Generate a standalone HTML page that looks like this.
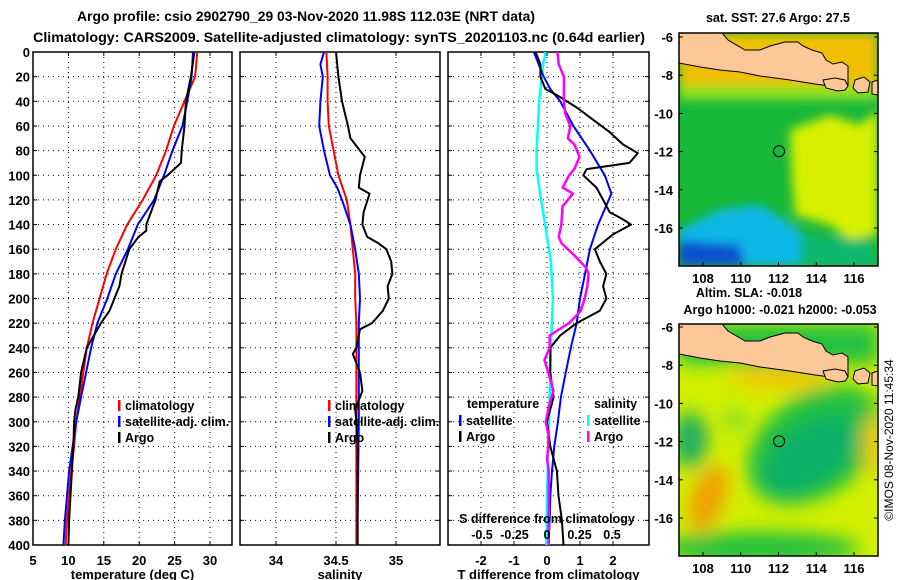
<!DOCTYPE html>
<html><head><meta charset="utf-8">
<style>
html,body{margin:0;padding:0;background:#fff;}
svg{display:block;font-family:"Liberation Sans",sans-serif;font-weight:bold;}
</style></head>
<body>
<svg id="chart" width="900" height="580" viewBox="0 0 900 580">
<defs>
<filter id="blur" x="-20%" y="-20%" width="140%" height="140%"><feGaussianBlur stdDeviation="9"/></filter>
<filter id="blur2" x="-20%" y="-20%" width="140%" height="140%"><feGaussianBlur stdDeviation="5"/></filter>
<clipPath id="clipTop"><rect x="679" y="33" width="199" height="233"/></clipPath>
<clipPath id="clipBot"><rect x="679" y="324" width="199" height="232"/></clipPath>
</defs>
<text x="77" y="21" font-size="14" textLength="458" lengthAdjust="spacingAndGlyphs">Argo profile: csio 2902790_29 03-Nov-2020 11.98S 112.03E (NRT data)</text>
<text x="33" y="42" font-size="14" textLength="612" lengthAdjust="spacingAndGlyphs">Climatology: CARS2009. Satellite-adjusted climatology: synTS_20201103.nc (0.64d earlier)</text>
<g id="panels"></g>
<g id="maps"></g>
<text transform="translate(893,440) rotate(-90)" font-size="12" font-weight="normal" text-anchor="middle">©IMOS 08-Nov-2020 11:45:34</text>
</svg>
<script>
// ---------- data ----------
const depthTicks = [0,20,40,60,80,100,120,140,160,180,200,220,240,260,280,300,320,340,360,380,400];
const tempTicks = [5,10,15,20,25,30];
const salTicks = [34,34.5,35];
const tdiffTicks = [-2,-1,0,1,2];
const sdiffTicks = [-0.5,-0.25,0,0.25,0.5];
const sdiffTickLabels = ["-0.5","-0.25","0","0.25","0.5"];

const stdDepth = [0,20,40,60,80,100,120,140,160,180,200,220,240,260,280,300,320,340,360,380,400];
const tempClim = [28.2,27.9,26.4,24.9,23.8,22.4,20.5,18.3,16.7,15.4,14.4,13.4,12.6,12.1,11.6,11.1,10.8,10.4,10.1,9.8,9.6];
const tempSat  = [27.6,27.4,26.8,26.1,24.7,23.5,22.1,19.8,18.4,16.7,15.5,14.1,13.2,12.5,11.8,11.1,10.6,10.1,9.8,9.5,9.3];
const argoTDepth = [0,20,40,60,80,90,100,105,120,140,145,150,160,180,190,200,210,220,240,260,280,290,300,320,340,360,380,400];
const tempArgo   = [27.8,27.3,26.6,26.4,26.0,25.9,24.0,22.9,22.3,21.0,21.0,19.9,18.6,17.5,17.2,16.5,15.8,14.6,12.6,11.8,11.4,11.0,10.8,10.7,10.5,10.3,10.1,10.0];

const salClim = [34.42,34.43,34.43,34.44,34.48,34.52,34.59,34.62,34.64,34.66,34.66,34.67,34.67,34.67,34.67,34.67,34.67,34.67,34.67,34.67,34.67];
const salSatDepth = [0,10,20,40,60,80,100,110,120,140,160,180,200,220,260,300,340,380,400];
const salSat = [34.40,34.37,34.39,34.37,34.36,34.40,34.45,34.51,34.55,34.62,34.66,34.69,34.70,34.69,34.69,34.69,34.685,34.68,34.68];
const argoSDepth = [0,20,40,60,70,75,85,100,110,115,130,140,150,155,160,170,180,190,200,210,220,225,240,245,260,275,290,300,320,360,400];
const salArgo = [34.50,34.52,34.55,34.60,34.62,34.66,34.74,34.70,34.69,34.78,34.73,34.72,34.76,34.85,34.92,34.96,34.97,34.93,34.94,34.89,34.80,34.70,34.67,34.64,34.70,34.72,34.66,34.67,34.68,34.68,34.68];

const tdiffSatDepth = [0,20,30,40,60,80,100,115,140,160,180,200,220,240,260,280,300,320,340,360,380,400];
const tdiffSat = [-0.4,-0.1,0.1,0.4,0.8,1.3,1.75,1.95,1.55,1.3,1.15,1.0,0.9,0.72,0.57,0.42,0.33,0.22,0.15,0.1,0.08,0.05];
const tdiffArgoDepth = [0,10,20,30,35,45,55,65,75,82,90,95,100,110,120,130,135,140,148,160,170,180,190,200,210,220,230,240,260,280,300,320,330,340,360,380,400];
const tdiffArgo = [-0.35,-0.2,-0.2,-0.05,0.3,0.9,1.4,1.9,2.3,2.75,2.5,1.2,1.1,1.5,1.7,1.9,2.25,2.55,2.0,1.45,1.6,1.8,1.7,1.8,1.6,0.9,0.4,0.1,0.1,0.2,0.0,0.1,0.2,0.3,0.35,0.45,0.5];
const sdiffSatDepth = [0,10,20,40,60,80,95,110,130,150,170,200,240,280,320,360,400];
const sdiffSat = [-0.01,-0.03,-0.04,-0.06,-0.07,-0.08,-0.08,-0.06,-0.03,0,0.03,0.045,0.03,0.02,0.01,0,-0.005];
const sdiffArgoDepth = [0,10,20,40,50,60,70,75,85,95,100,110,115,125,140,150,155,165,175,180,190,200,210,220,230,240,250,260,275,285,300,310,320,330,340,400];
const sdiffArgo = [0.08,0.09,0.13,0.13,0.14,0.18,0.16,0.21,0.25,0.21,0.17,0.12,0.2,0.12,0.11,0.09,0.11,0.21,0.3,0.32,0.31,0.29,0.26,0.17,0.02,0.02,-0.02,0.01,0.05,0.02,-0.01,0.01,0.01,0.0,0.013,0.013];

// ---------- helpers ----------
const NS = "http://www.w3.org/2000/svg";
function mk(tag, attrs, parent){const e=document.createElementNS(NS,tag);for(const k in attrs)e.setAttribute(k,attrs[k]);parent.appendChild(e);return e;}
const TOP=52, BOT=545;
const yD = d => TOP + d*(BOT-TOP)/400;
const xT = v => 33 + (v-5)*177/25;
const xS = v => 276 + (v-34)*120;
const xTd = v => 547 + v*33;
const xSd = v => 547 + v*130;
const panels = document.getElementById('panels');

function frame(x0,x1,name,xticks,xf,xlabel,showY){
  const g = mk('g',{},panels);
  
  
  depthTicks.forEach(d=>{
    if(d>0&&d<400) mk('line',{x1:x0,x2:x1,y1:yD(d),y2:yD(d),stroke:'#000','stroke-width':1,'stroke-dasharray':'1,4'},g);
    mk('line',{x1:x0,x2:x0+4,y1:yD(d),y2:yD(d),stroke:'#000'},g);
    mk('line',{x1:x1-4,x2:x1,y1:yD(d),y2:yD(d),stroke:'#000'},g);
    if(showY){const t=mk('text',{x:x0-3,y:yD(d)+5,'font-size':13,'text-anchor':'end'},g);t.textContent=d;
      
      }
  });
  xticks.forEach(v=>{
    const x=xf(v);
    mk('line',{x1:x,x2:x,y1:TOP,y2:BOT,stroke:'#000','stroke-dasharray':'1,4'},g);
    mk('line',{x1:x,x2:x,y1:BOT-4,y2:BOT,stroke:'#000'},g);
    mk('line',{x1:x,x2:x,y1:TOP,y2:TOP+4,stroke:'#000'},g);
    const t=mk('text',{x:x,y:BOT+20,'font-size':13,'text-anchor':'middle'},g);t.textContent=v;
    
    
  });
  mk('rect',{x:x0,y:TOP,width:x1-x0,height:BOT-TOP,fill:'none',stroke:'#000','stroke-width':1.5},g);
  const xl=mk('text',{x:(x0+x1)/2,y:579,'font-size':13,'text-anchor':'middle'},g);xl.textContent=xlabel;
  
  
}
function series(depths, vals, xf, color, w, name){
  const pts = vals.map((v,i)=>xf(v).toFixed(1)+','+yD(depths[i]).toFixed(1)).join(' ');
  const p = mk('polyline',{points:pts,fill:'none',stroke:color,'stroke-width':w,'stroke-linejoin':'round'},panels);
  
  
}
function legend(x,y,color,label){
  mk('rect',{x:x,y:y-10,width:2.5,height:11,fill:color},panels);
  const t=mk('text',{x:x+7,y:y,'font-size':12.5},panels);t.textContent=label;
  
  
}
function label(x,y,txt,anchor,name){
  const t=mk('text',{x:x,y:y,'font-size':12.5,'text-anchor':anchor||'start'},panels);t.textContent=txt;
  
  
}

// Panel 1: temperature
frame(33,232,'temperature-panel',tempTicks,xT,'temperature (deg C)',true);
series(stdDepth,tempClim,xT,'#ff0000',2,'temp-climatology-line');
series(stdDepth,tempSat,xT,'#0000ff',2,'temp-satellite-line');
series(argoTDepth,tempArgo,xT,'#000',2,'temp-argo-line');
legend(118,410,'#ff0000','climatology');
legend(118,426,'#0000ff','satellite-adj. clim.');
legend(118,442,'#000','Argo');

// Panel 2: salinity
frame(240,440,'salinity-panel',salTicks,xS,'salinity',false);
series(stdDepth,salClim,xS,'#ff0000',2,'sal-climatology-line');
series(salSatDepth,salSat,xS,'#0000ff',2,'sal-satellite-line');
series(argoSDepth,salArgo,xS,'#000',2,'sal-argo-line');
legend(328,410,'#ff0000','climatology');
legend(328,426,'#0000ff','satellite-adj. clim.');
legend(328,442,'#000','Argo');

// Panel 3: differences
frame(448,649,'difference-panel',tdiffTicks,xTd,'T difference from climatology',false);
series(sdiffSatDepth,sdiffSat,xSd,'#00ffff',2.5,'sdiff-satellite-line');
series(tdiffSatDepth,tdiffSat,xTd,'#0000ff',2,'tdiff-satellite-line');
series(tdiffArgoDepth,tdiffArgo,xTd,'#000',2,'tdiff-argo-line');
series(sdiffArgoDepth,sdiffArgo,xSd,'#ff00ff',2.5,'sdiff-argo-line');
label(467,408,'temperature','start','legend-temperature-heading');
label(594,408,'salinity','start','legend-salinity-heading');
legend(459,425,'#0000ff','satellite');
legend(459,441,'#000','Argo');
legend(587,425,'#00ffff','satellite');
legend(587,441,'#ff00ff','Argo');
label(547,523,'S difference from climatology','middle','s-diff-axis-title');
sdiffTicks.forEach((v,i)=>{label(xSd(v),539,sdiffTickLabels[i],'middle','s-diff-tick-label');});

// ---------- maps ----------
const maps = document.getElementById('maps');
const lonTicks=[108,110,112,114,116];
const latTicks=[-6,-8,-10,-12,-14,-16];
function mapAxes(y0,y1,lat6y,lat16y,name){
  const g=mk('g',{},maps);
  
  
  const ly=v=>lat6y+(-6-v)*(lat16y-lat6y)/10;
  const lx=v=>703+(v-108)*(854-703)/8;
  latTicks.forEach(v=>{mk('line',{x1:679,x2:683,y1:ly(v),y2:ly(v),stroke:'#000'},g);
    mk('line',{x1:874,x2:878,y1:ly(v),y2:ly(v),stroke:'#000'},g);
    const t=mk('text',{x:673,y:ly(v)+5,'font-size':13,'text-anchor':'end'},g);t.textContent=v;
    
    });
  lonTicks.forEach(v=>{mk('line',{x1:lx(v),x2:lx(v),y1:y1-4,y2:y1,stroke:'#000'},g);
    const t=mk('text',{x:lx(v),y:y1+17,'font-size':13,'text-anchor':'middle'},g);t.textContent=v;
    
    });
  mk('rect',{x:679,y:y0,width:199,height:y1-y0,fill:'none',stroke:'#000','stroke-width':1.5},g);
  mk('circle',{cx:lx(112.03),cy:ly(-11.98),r:5.5,fill:'none',stroke:'#000','stroke-width':1},g);
}
function poly(g,pts,dy,name){
  const s=pts.map(p=>p[0]+','+(p[1]+dy)).join(' ');
  const p=mk('polygon',{points:s,fill:'#fcc898',stroke:'#000','stroke-width':1},g);
  
  
}
function land(g,dy){
  poly(g,[[679,33],[722,33],[728,40],[745,50],[760,50],[770,46],[785,42],[798,42],[803,46],[812,50],[822,53],[826,60],[833,64],[842,62],[848,66],[848,86],[840,88],[830,86],[815,84],[790,80],[760,76],[740,72],[720,70],[700,67],[679,63]],dy,'java-land');
  poly(g,[[823,80],[835,78],[845,80],[848,86],[845,90],[838,91],[826,88]],dy,'bali-island');
  poly(g,[[855,80],[864,77],[870,82],[868,92],[858,93],[853,88]],dy,'lombok-island');
  poly(g,[[872,82],[878,80],[878,95],[872,94]],dy,'sumbawa-island');
}
// top map: SST
(function(){
  const g=mk('g',{'clip-path':'url(#clipTop)'},maps);
  
  
  mk('rect',{x:679,y:33,width:199,height:233,fill:'#18b83a'},g);
  const b=mk('g',{filter:'url(#blur2)'},g);
  mk('rect',{x:679,y:33,width:199,height:55,fill:'#f0c000'},b);
  mk('rect',{x:679,y:85,width:199,height:15,fill:'#90e020'},b);
  mk('path',{d:'M790 130 L830 115 L860 125 L878 110 L878 235 L850 240 L830 225 L795 215 L792 180 Z',fill:'#d8f000'},b);
  mk('path',{d:'M720 210 L760 205 L800 230 L820 266 L679 266 L679 230 Z',fill:'#10b8e8'},b);
  mk('path',{d:'M679 240 L740 245 L745 266 L679 266 Z',fill:'#1050d0'},b);
  mk('path',{d:'M800 235 L870 240 L878 266 L800 266 Z',fill:'#10b870'},b);
  land(g,0);
  const t=mk('text',{x:778,y:22,'font-size':12.5,'text-anchor':'middle'},maps);t.textContent='sat. SST: 27.6 Argo: 27.5';
  
  
  mapAxes(33,266,37,228,'sst-map-axes');
})();
// bottom map: SLA
(function(){
  const g=mk('g',{'clip-path':'url(#clipBot)'},maps);
  
  
  mk('rect',{x:679,y:324,width:199,height:232,fill:'#d2f000'},g);
  const b=mk('g',{filter:'url(#blur)'},g);
  mk('ellipse',{cx:815,cy:445,rx:75,ry:50,fill:'#20c040',transform:'rotate(-35 815 445)'},b);
  mk('ellipse',{cx:810,cy:455,rx:55,ry:30,fill:'#10b068',transform:'rotate(-35 810 455)'},b);
  mk('ellipse',{cx:690,cy:440,rx:18,ry:28,fill:'#20b060'},b);
  mk('ellipse',{cx:708,cy:498,rx:17,ry:35,fill:'#f0a000',transform:'rotate(20 708 498)'},b);
  mk('ellipse',{cx:760,cy:548,rx:100,ry:16,fill:'#20c040'},b);
  mk('ellipse',{cx:735,cy:420,rx:12,ry:14,fill:'#90e020'},b);
  mk('ellipse',{cx:873,cy:445,rx:10,ry:30,fill:'#f0c800'},b);
  mk('ellipse',{cx:780,cy:378,rx:50,ry:12,fill:'#f0c800'},b);
  mk('rect',{x:679,y:324,width:199,height:40,fill:'#20c040'},b);
  land(g,291);
  const t1=mk('text',{x:749,y:297,'font-size':12.5,'text-anchor':'middle'},maps);t1.textContent='Altim. SLA: -0.018';
  
  
  const t2=mk('text',{x:780,y:314,'font-size':12.5,'text-anchor':'middle'},maps);t2.textContent='Argo h1000: -0.021 h2000: -0.053';
  
  
  mapAxes(324,556,327,518,'sla-map-axes');
})();
</script>
</body></html>
